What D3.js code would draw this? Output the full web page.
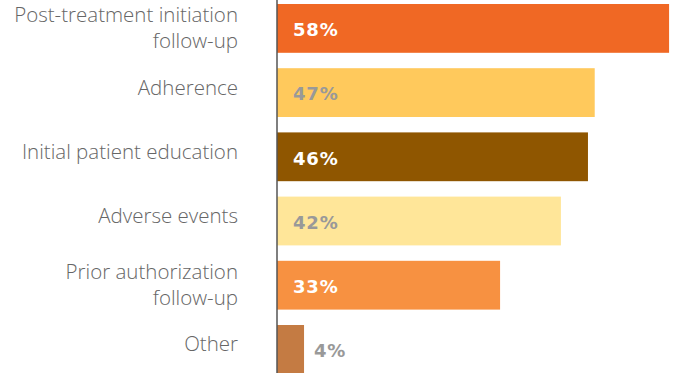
<!DOCTYPE html>
<html>
<head>
<meta charset="utf-8">
<script src="https://cdn.jsdelivr.net/npm/d3@7"></script>
<style>
body{margin:0;background:#fff}
</style>
</head>
<body>
<div id="graph"></div>
<script>
"use strict"
var categories=[["Post-treatment initiation","follow-up"],["Adherence"],["Initial patient education"],["Adverse events"],["Prior authorization","follow-up"],["Other"]]
var values=[58,47,46,42,33,4]
var colors=["#f06824","#ffc95c","#8f5600","#ffe699","#f79141","#c47b43"]
var labelColors=["#fff","#999","#fff","#999","#fff","#999"]

var W=678,H=373
var svg=d3.select('#graph').append('svg').attr('width',W).attr('height',H)

var keys=categories.map(function(c){return c.join(' ')})
var x=d3.scaleLinear().domain([0,100]).range([277,277+676])
var y=d3.scaleBand().domain(keys).range([-3.7,381.5]).paddingInner(0.24).paddingOuter(0.12)

// bars
svg.selectAll('rect.bar').data(values).enter().append('rect')
  .attr('class','bar')
  .attr('x',x(0))
  .attr('y',function(d,i){return y(keys[i])})
  .attr('width',function(d){return x(d)-x(0)})
  .attr('height',y.bandwidth())
  .attr('fill',function(d,i){return colors[i]})

// axis line
svg.append('line').attr('x1',x(0)).attr('x2',x(0)).attr('y1',0).attr('y2',H)
  .attr('stroke','#555').attr('stroke-width',1.5)

// category labels
categories.forEach(function(c,i){
  var cy=y(keys[i])+y.bandwidth()/2
  var lh=26
  var off=c.length>1?6.5:2
  var t=svg.append('text').attr('text-anchor','end').attr('font-family','Open Sans').attr('font-weight',300).attr('font-size',20.5)
    .attr('fill','#666')
  c.forEach(function(line,j){
    t.append('tspan').attr('x',238).attr('y',cy+off+(j-(c.length-1)/2)*lh).text(line)
  })
})

// value labels
values.forEach(function(v,i){
  var inside=x(v)-x(0)>40
  svg.append('text')
    .attr('x',inside?x(0)+16:x(v)+10)
    .attr('y',y(keys[i])+y.bandwidth()/2+7.8)
    .attr('font-family','DejaVu Sans').attr('font-weight','bold').attr('font-size',18)
    .attr('letter-spacing',0.8)
    .attr('fill',labelColors[i])
    .text(v+'%')
})
</script>
</body>
</html>
